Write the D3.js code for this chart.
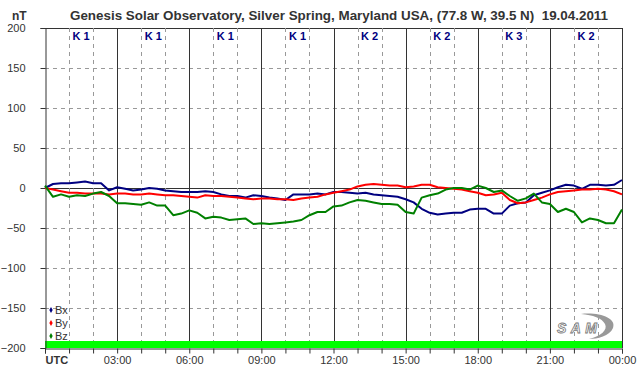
<!DOCTYPE html>
<html>
<head>
<meta charset="utf-8">
<script src="https://cdn.jsdelivr.net/npm/d3@7"></script>
<style>
  body { margin: 0; background: #fff; }
  svg { display: block; font-family: "Liberation Sans", Arial, sans-serif; }
</style>
</head>
<body>
<div id="chart"></div>
<script>
// magnetometer readings, one value every 20 minutes (nT)
var bx = [0,5,6,6,7,8,6,6,-3,1,-1,-3,-2,0,-1,-3,-4,-5,-5,-5,-4,-5,-8,-10,-10,-12,-9,-10,-12,-13,-15,-8,-8,-8,-7,-8,-5,-5,-6,-7,-6,-8,-9,-10,-11,-14,-18,-26,-31,-33,-32,-31,-31,-27,-26,-26,-32,-32,-22,-19,-18,-9,-6,-3,1,4,3,-1,4,4,3,4,10];
var by = [0,-2,-4,-6,-6,-7,-7,-7,-8,-7,-7,-8,-8,-7,-8,-9,-9,-10,-11,-12,-9,-10,-10,-11,-12,-13,-14,-13,-13,-14,-14,-15,-13,-12,-11,-8,-6,-4,-2,2,4,5,4,3,3,1,2,4,4,1,0,-1,-2,-4,-6,-9,-8,-6,-15,-19,-18,-15,-12,-8,-5,-4,-3,-2,-2,-1,-2,-4,-8];
var bz = [3,-11,-8,-11,-9,-10,-7,-5,-10,-19,-19,-20,-21,-18,-22,-22,-34,-32,-28,-31,-38,-36,-37,-40,-39,-38,-45,-44,-45,-44,-43,-42,-40,-34,-30,-30,-23,-22,-18,-15,-16,-18,-20,-20,-21,-30,-32,-12,-9,-7,-2,0,0,-2,3,0,-5,-3,-10,-16,-13,-7,-18,-20,-30,-26,-30,-43,-38,-40,-44,-44,-27];

var kLabels = ["K 1","K 1","K 1","K 1","K 2","K 2","K 3","K 2"];
var yTicks = [200,150,100,50,0,-50,-100,-150,-200];
var xLabels = ["UTC","03:00","06:00","09:00","12:00","15:00","18:00","21:00","00:00"];
var seriesNames = ["Bx","By","Bz"];
var seriesColors = ["#000080","#ff0000","#008000"];

var width = 642, height = 376;
var pLeft = 45, pRight = 622, pTop = 28, pBottom = 348;

var x = d3.scaleLinear().domain([0,24]).range([pLeft,pRight]);
var y = d3.scaleLinear().domain([-200,200]).range([pBottom,pTop]);

var svg = d3.select('#chart').append('svg')
  .attr('width', width)
  .attr('height', height);

// title
svg.append('text')
  .attr('x', 70).attr('y', 20)
  .attr('font-size', 13).attr('font-weight','bold')
  .attr('fill','#333')
  .attr('textLength', 538)
  .attr('lengthAdjust','spacingAndGlyphs')
  .style('white-space','pre')
  .text('Genesis Solar Observatory, Silver Spring, Maryland USA, (77.8 W, 39.5 N)  19.04.2011');

svg.append('text')
  .attr('x', 12).attr('y', 20)
  .attr('font-size', 12).attr('font-weight','bold')
  .attr('fill','#333')
  .text('nT');

// horizontal grid
var grid = svg.append('g');
yTicks.forEach(function(v){
  if (v == -200) return;
  var solid = (v == 0 || v == 200);
  grid.append('line')
    .attr('x1', pLeft).attr('x2', pRight)
    .attr('y1', Math.round(y(v))+0.5).attr('y2', Math.round(y(v))+0.5)
    .attr('stroke', solid ? '#333' : '#999')
    .attr('stroke-dasharray', solid ? null : '4,4');
});

// vertical grid, every hour
d3.range(1,25).forEach(function(h){
  var solid = (h % 3 == 0);
  grid.append('line')
    .attr('x1', Math.round(x(h))+0.5).attr('x2', Math.round(x(h))+0.5)
    .attr('y1', pTop).attr('y2', pBottom)
    .attr('stroke', solid ? '#333' : '#999')
    .attr('stroke-dasharray', solid ? null : '4,4');
});

// green status bar
svg.append('rect')
  .attr('x', pLeft).attr('y', y(-200)-7)
  .attr('width', pRight-pLeft).attr('height', 7)
  .attr('fill', '#00ff00');

// y axis
var yAxis = d3.axisLeft(y).tickValues(yTicks).tickSize(5).tickPadding(8);
svg.append('g')
  .attr('transform','translate(' + (pLeft+0.5) + ',0)')
  .call(yAxis)
  .call(function(g){
    g.select('.domain').attr('stroke','#333');
    g.selectAll('.tick line').attr('stroke','#333');
    g.selectAll('.tick text').attr('fill','#333').attr('font-size',11)
      .attr('font-family','"Liberation Sans", Arial, sans-serif')
      .attr('x', -20);
  });

// x axis
var xAxis = d3.axisBottom(x).tickValues(d3.range(0,25)).tickSize(5)
  .tickFormat(function(h){ return h % 3 == 0 ? xLabels[h/3] : ''; });
svg.append('g')
  .attr('transform','translate(0,' + (pBottom+0.5) + ')')
  .call(xAxis)
  .call(function(g){
    g.select('.domain').attr('stroke','#333');
    g.selectAll('.tick line').attr('stroke','#333');
    g.selectAll('.tick text').attr('fill','#333').attr('font-size',11)
      .attr('font-family','"Liberation Sans", Arial, sans-serif')
      .attr('y', 8);
    g.selectAll('.tick').filter(function(d){ return d == 0; }).select('text')
      .attr('text-anchor','start').attr('font-weight','bold');
  });

// K index labels
svg.append('g').selectAll('text')
  .data(kLabels)
  .enter()
  .append('text')
  .attr('x', function(d,i){ return x(i*3+1.5); })
  .attr('y', 40)
  .attr('text-anchor','middle')
  .attr('font-size', 11).attr('font-weight','bold')
  .attr('fill','#000080')
  .text(function(d){ return d; });

// series lines
var line = d3.line()
  .x(function(d,i){ return x(i/3); })
  .y(function(d){ return y(d); });

[bx, by, bz].forEach(function(s, k){
  svg.append('path')
    .datum(s)
    .attr('d', line)
    .attr('fill','none')
    .attr('stroke', seriesColors[k])
    .attr('stroke-width', 2)
    .attr('stroke-linejoin','round');
});

// legend
var leg = svg.append('g');
seriesNames.forEach(function(n, k){
  var yy = 310 + k*13;
  leg.append('path')
    .attr('d', d3.symbol().type(d3.symbolDiamond).size(10)())
    .attr('transform','translate(51,' + yy + ')')
    .attr('fill', seriesColors[k]);
  leg.append('text')
    .attr('x', 55).attr('y', yy+4)
    .attr('font-size', 11).attr('fill','#333')
    .text(n);
});

// SAM logo
var logo = svg.append('g').attr('transform','translate(555,312)');
logo.append('path')
  .attr('d','M26,2 C44,0 62,6 58,16 C55,24 42,27 34,27 C46,24 53,18 50,12 C47,6 38,3 26,2 Z')
  .attr('fill','#999');
logo.append('text')
  .attr('x', 2).attr('y', 21)
  .attr('font-size', 14).attr('font-style','italic').attr('font-weight','bold')
  .attr('fill','#fff').attr('stroke','#777').attr('stroke-width',0.8)
  .attr('textLength', 40)
  .text('SAM');
</script>
</body>
</html>
